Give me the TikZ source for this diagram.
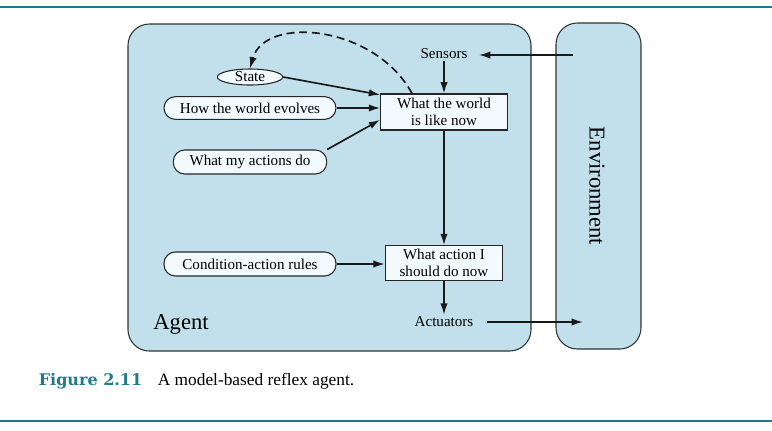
\documentclass[tikz,border=0pt]{standalone}
\usepackage{fontspec}
\setmainfont{Liberation Serif}
\newfontfamily\figfont{DejaVu Serif}
\usepackage{xcolor}
\usetikzlibrary{arrows.meta, positioning, shapes.geometric}

\definecolor{agentblue}{HTML}{C1E0EC}
\definecolor{nodewhite}{HTML}{F2FAFD}
\definecolor{rule}{HTML}{1F7A8C}

\begin{document}
\begin{tikzpicture}[x=0.75pt, y=-0.75pt, >={Latex[length=8.5pt,width=5.5pt]}, line width=1.25pt,
    every node/.style={font=\fontsize{11.3}{12.5}\selectfont, align=center, inner sep=1pt}]
    % Define styles for panels, boxes and rules
    \tikzstyle{panel} = [draw=black!80, line width=0.8pt, fill=agentblue, rounded corners=16pt]
    \tikzstyle{rulebox} = [draw=black!85, line width=0.8pt, fill=nodewhite, rectangle]
    \tikzstyle{stadium} = [draw=black!85, line width=0.8pt, fill=nodewhite, rectangle, rounded corners=8.5pt, minimum height=17pt]
    \tikzstyle{link} = [->, draw=black!90]

    \useasboundingbox (0,0) rectangle (772,430);

    % Rules and panels
    \draw[rule, line width=2pt] (0,7) -- (772,7);
    \draw[rule, line width=2pt] (0,421) -- (772,421);
    \draw[panel] (128,24) rectangle (531,351);
    \draw[panel] (556,23) rectangle (641,349);

    % Nodes placement
    \node [rulebox, minimum width=95pt, minimum height=27pt] (world) at (444,112) {What the world\\is like now};
    \node [rulebox, minimum width=88pt, minimum height=26pt] (action) at (444,263) {What action I\\should do now};
    \node (sensors) at (444,54) {Sensors};
    \node (actuators) at (444,322) {Actuators};
    \node [draw=black!85, line width=0.8pt, fill=nodewhite, ellipse, minimum width=49pt, minimum height=12pt, inner sep=0pt] (state) at (250,77) {State};
    \node [stadium, minimum width=129pt] (evolves) at (250,108) {How the world evolves};
    \node [stadium, minimum width=115pt, minimum height=18pt] (actions) at (250,162) {What my actions do};
    \node [stadium, minimum width=129pt, minimum height=18pt] (rules) at (250,264) {Condition-action rules};
    \node [font=\fontsize{17}{19}\selectfont] (agent) at (181,324) {Agent};
    \node [font=\fontsize{17}{19}\selectfont, rotate=-90] (environment) at (597,186) {Environment};
    \coordinate (envin) at (573,55);
    \coordinate (envout) at (583,322);

    % Draw edges
    \draw[link] (envin) -- ([xshift=7pt]sensors.east |- envin);
    \draw[link] (sensors) -- (world);
    \draw[link] (state.east) -- ([yshift=-1pt]world.north west);
    \draw[link] (evolves.east) -- (world.west |- evolves.east);
    \draw[link] (actions.north east) -- ([yshift=8pt]world.south west);
    \draw[link] (world) -- (action);
    \draw[link] (rules.east) -- (action.west |- rules.east);
    \draw[link] (action) -- (actuators);
    \draw[link] ([xshift=9pt]actuators.east) -- (envout);

    % Dashed feedback to state
    \draw[link, dashed, dash pattern=on 6pt off 3.5pt] ([xshift=-24pt]world.north) .. controls (375,25) and (265,15) .. (state.north);

    % Caption
    \node [anchor=base west, inner sep=0pt, text=rule, font=\fontsize{12}{14}\figfont\bfseries] (figlabel) at (38,385) {Figure 2.11};
    \node [anchor=base west, inner sep=0pt, font=\fontsize{13}{15}\selectfont] (caption) at (157,385) {A model-based reflex agent.};
\end{tikzpicture}
\end{document}
